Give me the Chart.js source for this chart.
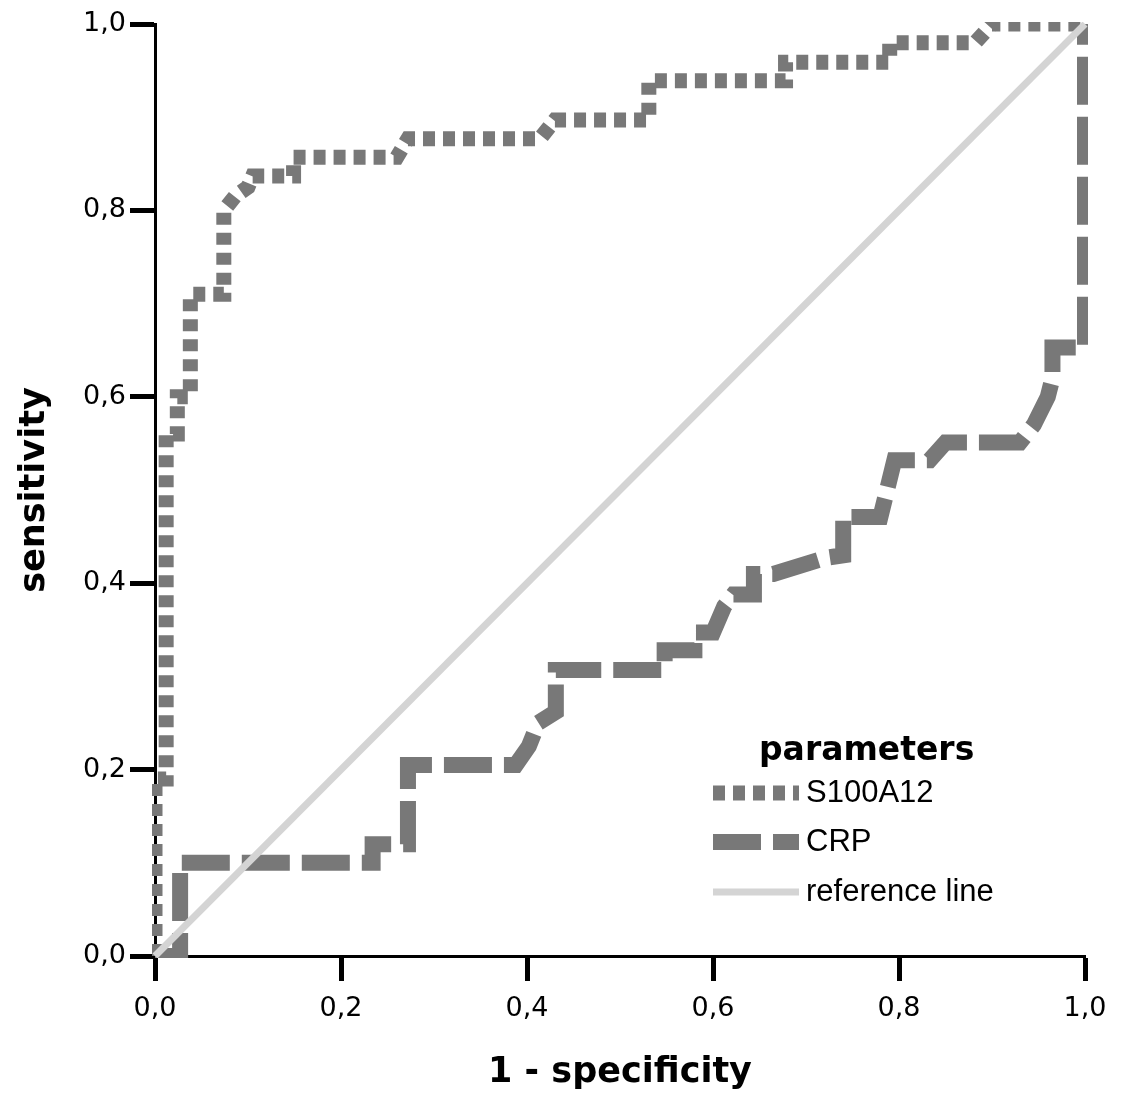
<!DOCTYPE html>
<html>
<head>
<meta charset="utf-8">
<title>ROC curve S100A12 / CRP</title>
<script src="https://cdn.jsdelivr.net/npm/chart.js@4.4.1/dist/chart.umd.min.js"></script>
<style>
    html, body { margin: 0; padding: 0; background: #fff; }
</style>
</head>
<body>
<canvas id="rocChart" width="1123" height="1100"></canvas>
<script>
// Axis ticks (comma decimals as in the original)
const tickValues = [0, 0.2, 0.4, 0.6, 0.8, 1.0];
const tickLabels = ['0,0', '0,2', '0,4', '0,6', '0,8', '1,0'];

const seriesNames = ['S100A12', 'CRP', 'reference line'];

// S100A12: 1 - specificity / sensitivity
const s100X = [0, 0, 0.012, 0.012, 0.024, 0.024, 0.038, 0.038, 0.074, 0.074,
               0.086, 0.1, 0.105, 0.149, 0.149, 0.26, 0.272, 0.414, 0.43, 0.531,
               0.531, 0.678, 0.678, 0.79, 0.79, 0.882, 0.9, 1.0];
const s100Y = [0, 0.19, 0.19, 0.56, 0.56, 0.60, 0.60, 0.71, 0.71, 0.80,
               0.815, 0.825, 0.837, 0.837, 0.857, 0.857, 0.877, 0.877, 0.897, 0.897,
               0.939, 0.939, 0.959, 0.959, 0.98, 0.98, 1.0, 1.0];

// CRP
const crpX = [0, 0.027, 0.027, 0.234, 0.234, 0.272, 0.272, 0.388, 0.402, 0.412,
              0.431, 0.431, 0.548, 0.548, 0.58, 0.58, 0.60, 0.612, 0.622, 0.644,
              0.644, 0.665, 0.72, 0.74, 0.74, 0.78, 0.795, 0.833, 0.85, 0.93,
              0.945, 0.96, 0.965, 0.965, 1.0, 1.0];
const crpY = [0, 0, 0.1, 0.1, 0.12, 0.12, 0.205, 0.205, 0.225, 0.25,
              0.262, 0.307, 0.307, 0.328, 0.328, 0.347, 0.347, 0.375, 0.388, 0.388,
              0.41, 0.41, 0.427, 0.43, 0.471, 0.471, 0.532, 0.532, 0.551, 0.551,
              0.57, 0.6, 0.62, 0.653, 0.653, 1.0];

// diagonal
const refX = [0, 1];
const refY = [0, 1];

const toPoints = (xs, ys) => xs.map((x, i) => ({x: x, y: ys[i]}));

const lineGray = '#787878';
const refGray = '#d4d4d4';

// legend drawn by hand so it can sit inside the plot like the original
const rocLegend = {
    id: 'rocLegend',
    afterDraw(chart) {
        const ctx = chart.ctx;
        const rows = [793, 842, 892];
        ctx.save();
        ctx.fillStyle = '#000';
        ctx.textBaseline = 'alphabetic';
        ctx.font = 'bold 33px "DejaVu Sans"';
        ctx.fillText('parameters', 759, 760);
        chart.data.datasets.forEach((ds, i) => {
            const y = rows[i];
            ctx.beginPath();
            ctx.setLineDash(ds.borderDash || []);
            ctx.lineWidth = ds.borderWidth;
            ctx.strokeStyle = ds.borderColor;
            ctx.lineCap = 'butt';
            ctx.moveTo(713, y);
            ctx.lineTo(799, y);
            ctx.stroke();
            ctx.setLineDash([]);
            ctx.font = '31px "Liberation Sans"';
            ctx.textBaseline = 'middle';
            ctx.fillStyle = '#000';
            ctx.fillText(ds.label, 806, y);
        });
        ctx.restore();
    }
};

const axisTickFont = {family: 'DejaVu Sans', size: 27};
const axisTitleFont = {family: 'DejaVu Sans', size: 35, weight: 'bold', lineHeight: 1.2};

new Chart(document.getElementById('rocChart'), {
    type: 'scatter',
    data: {
        datasets: [
            {
                label: seriesNames[0],
                data: toPoints(s100X, s100Y),
                showLine: true,
                borderColor: lineGray,
                borderWidth: 15,
                borderDash: [12, 8],
                borderCapStyle: 'butt',
                borderJoinStyle: 'miter',
                pointRadius: 0,
                tension: 0,
                clip: {left: 3, top: 2, right: 3, bottom: 2},
                order: 1
            },
            {
                label: seriesNames[1],
                data: toPoints(crpX, crpY),
                showLine: true,
                borderColor: lineGray,
                borderWidth: 16,
                borderDash: [48, 12],
                borderCapStyle: 'butt',
                borderJoinStyle: 'miter',
                pointRadius: 0,
                tension: 0,
                clip: {left: 3, top: 2, right: 3, bottom: 2},
                order: 2
            },
            {
                label: seriesNames[2],
                data: toPoints(refX, refY),
                showLine: true,
                borderColor: refGray,
                borderWidth: 7,
                pointRadius: 0,
                clip: {left: 3, top: 2, right: 3, bottom: 2},
                order: 0
            }
        ]
    },
    options: {
        responsive: false,
        animation: false,
        layout: { padding: {top: 24, right: 38, left: 0, bottom: 0} },
        plugins: {
            legend: { display: false },
            tooltip: { enabled: false }
        },
        scales: {
            x: {
                type: 'linear',
                min: 0,
                max: 1,
                afterFit: s => { s.height = 144; },
                afterBuildTicks: s => { s.ticks = tickValues.map(v => ({value: v})); },
                ticks: {
                    callback: (v, i) => tickLabels[i],
                    font: axisTickFont,
                    color: '#000',
                    padding: 12,
                    maxRotation: 0,
                    autoSkip: false
                },
                grid: { drawOnChartArea: false, drawTicks: true, tickLength: 25, tickWidth: 5, tickColor: '#000' },
                border: { display: true, color: '#000', width: 3 },
                title: {
                    display: true,
                    text: '1 - specificity',
                    color: '#000',
                    font: axisTitleFont,
                    padding: {top: 0, bottom: 6}
                }
            },
            y: {
                type: 'linear',
                min: 0,
                max: 1,
                afterFit: s => { s.width = 155; },
                afterBuildTicks: s => { s.ticks = tickValues.map(v => ({value: v})); },
                ticks: {
                    callback: (v, i) => tickLabels[i],
                    font: axisTickFont,
                    color: '#000',
                    padding: 4,
                    autoSkip: false
                },
                grid: { drawOnChartArea: false, drawTicks: true, tickLength: 25, tickWidth: 5, tickColor: '#000' },
                border: { display: true, color: '#000', width: 3 },
                title: {
                    display: true,
                    text: 'sensitivity',
                    color: '#000',
                    font: axisTitleFont,
                    padding: {top: 14, bottom: 0}
                }
            }
        }
    },
    plugins: [rocLegend]
});
</script>
</body>
</html>
